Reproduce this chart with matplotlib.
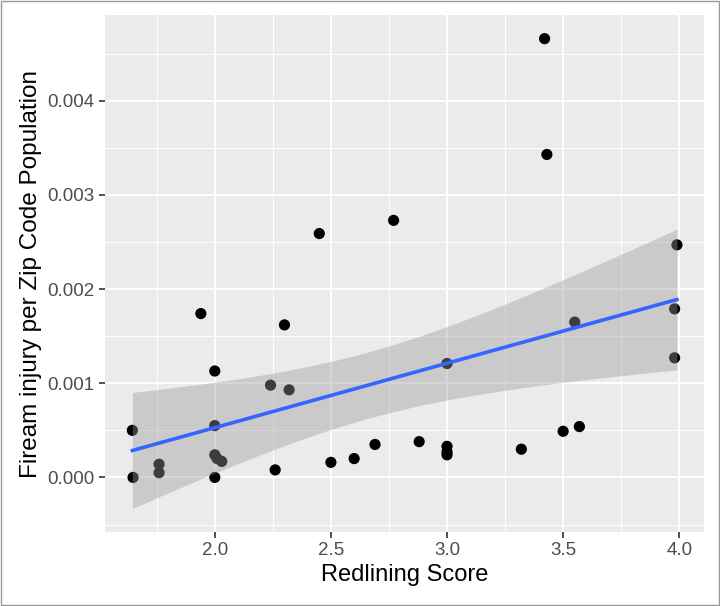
import numpy as np
import matplotlib
matplotlib.use("Agg")
import matplotlib.pyplot as plt
from matplotlib.patches import Rectangle
from matplotlib.ticker import MultipleLocator, FormatStrFormatter

plt.rcParams['font.family'] = ['Liberation Sans', 'DejaVu Sans']

# data
redlining = [1.645, 1.648, 1.76, 1.76, 1.94, 2.0, 2.0, 2.0, 2.01, 2.03, 2.0,
             2.24, 2.32, 2.26, 2.45, 2.30, 2.50, 2.60, 2.69, 2.77,
             3.42, 3.43, 3.99, 3.98, 3.55, 3.0, 3.98, 2.88, 3.0, 3.0, 3.0,
             3.32, 3.50, 3.57]
injury = [0.00050, 0.0, 0.00014, 0.00005, 0.00174, 0.00113, 0.00055, 0.00024,
          0.00020, 0.00017, 0.0, 0.00098, 0.00093, 0.00008, 0.00259, 0.00162,
          0.00016, 0.00020, 0.00035, 0.00273, 0.00466, 0.00343, 0.00247,
          0.00179, 0.00165, 0.00121, 0.00127, 0.00038, 0.00033, 0.00024,
          0.00027, 0.00030, 0.00049, 0.00054]
x_ticks = [2.0, 2.5, 3.0, 3.5, 4.0]
y_ticks = [0.000, 0.001, 0.002, 0.003, 0.004]

x = np.array(redlining)
y = np.array(injury)

# linear fit with 95% confidence band (like geom_smooth(method="lm"))
n = len(x)
b1, b0 = np.polyfit(x, y, 1)
resid = y - (b0 + b1 * x)
s = np.sqrt(np.sum(resid ** 2) / (n - 2))
t_val = 2.037  # t quantile, df ~ 32
xs = np.linspace(x.min(), x.max(), 80)
ys = b0 + b1 * xs
se = s * np.sqrt(1.0 / n + (xs - x.mean()) ** 2 / np.sum((x - x.mean()) ** 2))
lo, hi = ys - t_val * se, ys + t_val * se

fig = plt.figure(figsize=(7.2, 6.06), dpi=100)
ax = fig.add_axes([0.146, 0.122, 0.832, 0.853])
ax.set_facecolor("#EBEBEB")

ax.scatter(x, y, s=65, color="black", edgecolors="none", zorder=3)
ax.fill_between(xs, lo, hi, color="#999999", alpha=0.4, linewidth=0, zorder=4)
ax.plot(xs, ys, color="#3366FF", linewidth=2.6, zorder=5)

# ggplot style expansion of 5%
xr = x.max() - x.min()
ax.set_xlim(x.min() - 0.05 * xr, x.max() + 0.05 * xr)
ymin, ymax = min(lo.min(), y.min()), max(hi.max(), y.max())
yr = ymax - ymin
ax.set_ylim(ymin - 0.05 * yr, ymax + 0.05 * yr)

ax.set_xticks(x_ticks)
ax.set_yticks(y_ticks)
ax.xaxis.set_major_formatter(FormatStrFormatter("%.1f"))
ax.yaxis.set_major_formatter(FormatStrFormatter("%.3f"))
ax.xaxis.set_minor_locator(MultipleLocator(0.25))
ax.yaxis.set_minor_locator(MultipleLocator(0.0005))
ax.grid(which="major", color="white", linewidth=1.4, zorder=0)
ax.grid(which="minor", color="white", linewidth=0.7, zorder=0)
ax.set_axisbelow(True)
ax.tick_params(which="major", length=4.5, width=1.2, color="#333333",
               labelsize=13.5, labelcolor="#4D4D4D", pad=3)
ax.tick_params(which="minor", length=0)
for sp in ax.spines.values():
    sp.set_visible(False)

ax.set_xlabel("Redlining Score", fontsize=17, labelpad=3)
ax.set_ylabel("Fiream injury per Zip Code Population", fontsize=17.5, labelpad=4)

# thin frame around the whole image
fig.patches.append(Rectangle((0.002, 0.002), 0.996, 0.996, transform=fig.transFigure,
                             fill=False, edgecolor="#999999", linewidth=1))

fig.savefig("out.png", dpi=100)
